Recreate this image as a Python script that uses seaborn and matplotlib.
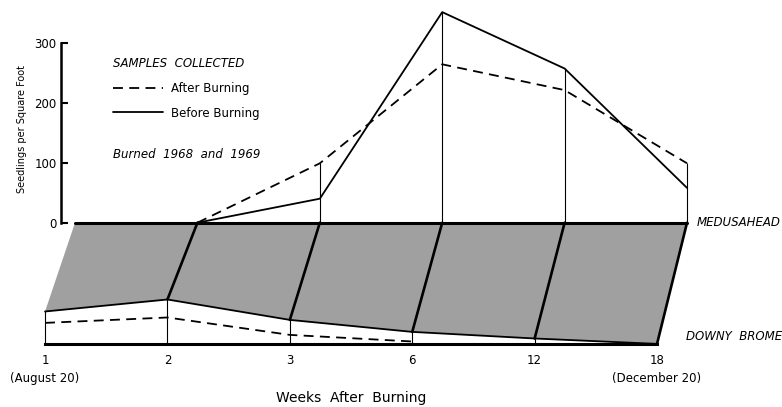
import numpy as np
import pandas as pd
import seaborn as sns
import matplotlib.pyplot as plt

# values (seedlings per square foot)
weeks = ['1', '2', '3', '6', '12', '18']
medusa_before = [np.nan, 0, 40, 351, 257, 58]
medusa_after = [np.nan, 0, 99, 264, 221, 99]
brome_before = [54, 74, 40, 20, 9, 0]
brome_after = [35, 44, 15, 4, np.nan, np.nan]
samples = ['After Burning', 'Before Burning']

# pseudo-3d projection: medusahead plane sits behind downy brome plane
DX = 0.245   # depth shift in week-index units
DY = 202     # depth shift in seedling units
GRAY = '#a0a0a0'

sns.set_style('white')
plt.rcParams['font.family'] = ['DejaVu Sans']
plt.rcParams.update({'text.color': 'black', 'axes.labelcolor': 'black',
                     'xtick.color': 'black', 'ytick.color': 'black',
                     'axes.edgecolor': 'black'})

pos = np.arange(len(weeks))

upper = pd.concat([
    pd.DataFrame({'x': pos + DX, 'seedlings': medusa_after, 'sample': samples[0]}),
    pd.DataFrame({'x': pos + DX, 'seedlings': medusa_before, 'sample': samples[1]}),
]).dropna()
lower = pd.concat([
    pd.DataFrame({'x': pos, 'seedlings': np.array(brome_after) - DY, 'sample': samples[0]}),
    pd.DataFrame({'x': pos, 'seedlings': np.array(brome_before) - DY, 'sample': samples[1]}),
]).dropna()

fig = plt.figure(figsize=(7.82, 4.07), dpi=100)
ax = fig.add_axes([0, 0, 1, 1])
ax.set_facecolor('white')

# gray depth panel between the two planes
poly_x = np.concatenate([[pos[0] + DX, pos[-1] + DX], pos[::-1]])
poly_y = np.concatenate([[0, 0], np.array(brome_before)[::-1] - DY])
ax.fill(poly_x, poly_y, color=GRAY, lw=0, zorder=1)

# thick slanted depth lines
for i in range(1, len(weeks)):
    ax.plot([pos[i], pos[i] + DX], [brome_before[i] - DY, 0], color='black', lw=1.9, zorder=3)

# medusahead baseline
ax.plot([pos[0] + DX, pos[-1] + DX], [0, 0], color='black', lw=2.2, zorder=3)

# vertical drop lines
top = np.nanmax([medusa_before, medusa_after], axis=0)
ok = ~np.isnan(top) & (top > 0)
ax.vlines(pos[ok] + DX, 0, top[ok], color='black', lw=0.8, zorder=2)
bb = np.array(brome_before)
ax.vlines(pos[bb > 0], -DY, bb[bb > 0] - DY, color='black', lw=0.8, zorder=2)

dashes = {samples[0]: (5.5, 3.5), samples[1]: ''}
sns.lineplot(data=upper, x='x', y='seedlings', style='sample', style_order=samples,
             dashes=dashes, color='black', lw=1.3, ax=ax, legend=True, zorder=4)
sns.lineplot(data=lower, x='x', y='seedlings', style='sample', style_order=samples,
             dashes=dashes, color='black', lw=1.3, ax=ax, legend=False, zorder=4)

ax.set_xlim(-0.368, 6.021)
ax.set_ylim(-307.2, 371.2)

# axes styling
for s in ['top', 'right']:
    ax.spines[s].set_visible(False)
ax.spines['left'].set_position(('data', 0.13))
ax.spines['left'].set_bounds(0, 300)
ax.spines['left'].set_linewidth(1.8)
ax.spines['bottom'].set_position(('data', -DY))
ax.spines['bottom'].set_bounds(0, len(weeks) - 1)
ax.spines['bottom'].set_linewidth(2.2)
ax.spines['bottom'].set_zorder(5)

ax.set_yticks([0, 100, 200, 300])
ax.tick_params(axis='y', left=True, direction='in', length=5, width=1.5,
               labelsize=8.5, pad=3)
xlabels = list(weeks)
xlabels[0] = '1\n(August 20)'
xlabels[-1] = '18\n(December 20)'
ax.set_xticks(pos)
ax.set_xticklabels(xlabels, fontsize=8.5, linespacing=1.55)
ax.tick_params(axis='x', length=0, pad=7)

ax.set_xlabel('Weeks  After  Burning', fontsize=10)
ax.xaxis.set_label_coords(2.5, -280, transform=ax.transData)
ax.set_ylabel('')
fig.text(22 / 782, 1 - 129 / 407, 'Seedlings per Square Foot', rotation=90,
         ha='center', va='center', fontsize=7)

sns.move_legend(ax, 'upper left', bbox_to_anchor=(113 / 782, 1 - 57 / 407),
                bbox_transform=fig.transFigure, title='SAMPLES  COLLECTED',
                frameon=False, fontsize=8.5, title_fontsize=8.5, alignment='left',
                handlelength=4.2, handletextpad=0.7, labelspacing=1.0,
                borderpad=0, borderaxespad=0)
ax.get_legend().get_title().set_style('italic')
fig.text(113 / 782, 1 - 154 / 407, 'Burned  1968  and  1969', style='italic',
         fontsize=8.5, va='center')

ax.annotate('MEDUSAHEAD', xy=(pos[-1] + DX, 0), xytext=(7, 0), textcoords='offset points',
            style='italic', fontsize=8.5, va='center')
ax.annotate('DOWNY  BROME', xy=(pos[-1], -DY), xytext=(21, 5), textcoords='offset points',
            style='italic', fontsize=8.5, va='center')

fig.savefig('out.png', dpi=100)
